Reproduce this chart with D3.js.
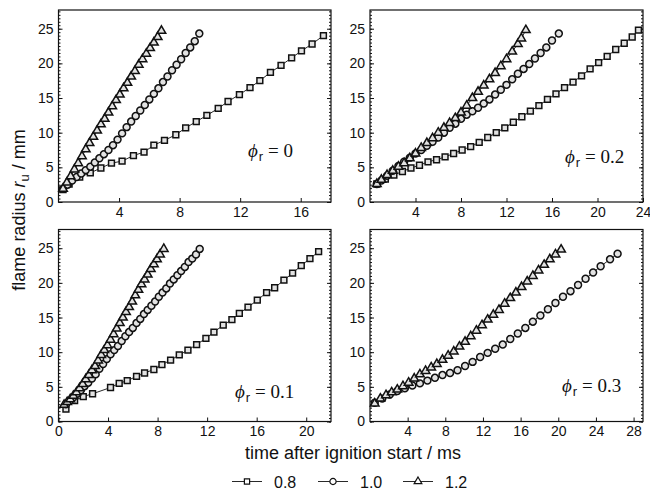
<!DOCTYPE html>
<html>
<head>
<meta charset="utf-8">
<script src="https://cdn.jsdelivr.net/npm/d3@7"></script>
<style>
  body { margin: 0; background: #fff; }
  svg { display: block; }
  .tick text { font-family: "Liberation Sans", Arial, sans-serif; font-size: 14px; fill: #111; }
  .tick line { stroke: #111; }
</style>
</head>
<body>
<script>
// legend / equivalence ratios and the residual-gas labels of the four panels
var eqRatios = ["0.8", "1.0", "1.2"];
var phiLabels = ["0", "0.2", "0.1", "0.3"];
var yTicks = [0, 5, 10, 15, 20, 25];

// [time (ms), flame radius (mm)]  -- phi_r = 0
var phi0_08 = [[0.3,1.8],[0.7,2.6],[1.4,3.6],[2.1,4.2],[2.8,4.9],[3.5,5.6],[4.2,5.9],[4.95,6.7],[5.65,7.2],[6.3,8.2],[7.0,8.9],[7.75,9.7],[8.4,10.7],[9.1,11.6],[9.8,12.5],[10.55,13.5],[11.2,14.5],[11.95,15.5],[12.65,16.5],[13.3,17.5],[14.0,18.7],[14.7,19.7],[15.4,20.8],[16.05,21.8],[16.75,22.8],[17.5,24.0]];
var phi0_10 = [[0.3,1.9],[0.6,2.5],[0.9,3.1],[1.2,3.6],[1.5,4.1],[1.8,4.6],[2.1,5.1],[2.4,5.7],[2.7,6.3],[3.0,6.9],[3.3,7.5],[3.6,8.2],[3.9,9.0],[4.2,9.9],[4.5,10.8],[4.8,11.6],[5.1,12.4],[5.4,13.2],[5.7,14.0],[6.0,14.8],[6.3,15.6],[6.6,16.4],[6.9,17.3],[7.2,18.1],[7.5,19.0],[7.8,19.8],[8.1,20.6],[8.4,21.5],[8.7,22.3],[9.0,23.2],[9.3,24.3]];
var phi0_12 = [[0.3,1.9],[0.55,2.8],[0.8,3.7],[1.05,4.7],[1.3,5.6],[1.55,6.6],[1.8,7.6],[2.05,8.5],[2.3,9.4],[2.55,10.3],[2.8,11.2],[3.05,12.0],[3.3,12.9],[3.55,13.8],[3.8,14.7],[4.05,15.5],[4.3,16.4],[4.55,17.2],[4.8,18.1],[5.05,18.9],[5.3,19.8],[5.55,20.6],[5.8,21.4],[6.05,22.2],[6.3,23.0],[6.55,23.8],[6.8,24.7]];

// phi_r = 0.2
var phi02_08 = [[0.6,2.6],[1.35,3.3],[2.1,3.9],[2.85,4.4],[3.6,4.9],[4.35,5.3],[5.1,5.8],[5.85,6.1],[6.6,6.5],[7.35,7.0],[8.1,7.5],[8.85,8.0],[9.6,8.6],[10.35,9.3],[11.1,10.0],[11.85,10.7],[12.6,11.5],[13.35,12.3],[14.1,13.1],[14.85,13.9],[15.6,14.8],[16.35,15.6],[17.1,16.5],[17.85,17.3],[18.6,18.2],[19.35,19.2],[20.1,20.1],[20.85,21.0],[21.6,22.0],[22.35,22.9],[23.05,23.8],[23.6,24.8]];
var phi02_10 = [[0.6,2.6],[1.0,3.1],[1.5,3.8],[2.0,4.5],[2.5,5.2],[3.0,5.8],[3.5,6.4],[4.0,7.0],[4.5,7.5],[5.0,8.1],[5.5,8.7],[6.0,9.3],[6.5,10.0],[7.0,10.7],[7.5,11.3],[8.0,12.0],[8.5,12.6],[9.0,13.1],[9.5,13.6],[10.0,14.2],[10.5,14.8],[11.0,15.5],[11.5,16.2],[12.0,16.9],[12.5,17.7],[13.0,18.5],[13.5,19.2],[14.0,19.9],[14.5,20.7],[15.0,21.5],[15.5,22.3],[16.0,23.3],[16.6,24.3]];
var phi02_12 = [[0.6,2.6],[1.0,3.2],[1.5,3.9],[2.0,4.5],[2.5,5.1],[3.0,5.6],[3.5,6.3],[4.0,7.0],[4.5,7.8],[5.0,8.5],[5.5,9.2],[6.0,10.0],[6.5,10.7],[7.0,11.4],[7.5,12.1],[8.0,12.9],[8.5,13.9],[9.0,15.0],[9.5,15.9],[10.0,16.8],[10.5,17.7],[11.0,18.6],[11.5,19.6],[12.0,20.6],[12.5,21.7],[13.0,22.8],[13.3,23.6],[13.7,24.8]];

// phi_r = 0.1
var phi01_08 = [[0.6,1.8],[1.3,3.0],[2.0,3.6],[2.75,4.0],[4.2,4.9],[4.9,5.5],[5.55,5.9],[6.3,6.5],[6.95,7.0],[7.7,7.5],[8.35,8.2],[9.05,8.85],[9.75,9.6],[10.45,10.3],[11.15,11.1],[11.9,12.0],[12.55,12.9],[13.3,13.9],[14.0,14.7],[14.6,15.6],[15.3,16.5],[16.05,17.5],[16.8,18.6],[17.45,19.3],[18.2,20.4],[18.9,21.4],[19.6,22.5],[20.3,23.5],[21.0,24.5]];
var phi01_10 = [[0.6,2.5],[0.9,3.0],[1.2,3.5],[1.5,4.0],[1.8,4.5],[2.1,5.1],[2.4,5.6],[2.7,6.2],[3.0,6.8],[3.3,7.6],[3.6,8.3],[3.9,9.0],[4.2,9.7],[4.5,10.3],[4.8,10.9],[5.1,11.6],[5.4,12.3],[5.7,12.9],[6.0,13.5],[6.3,14.2],[6.6,14.8],[6.9,15.5],[7.2,16.1],[7.5,16.7],[7.8,17.3],[8.1,18.0],[8.4,18.6],[8.7,19.2],[9.0,19.9],[9.3,20.5],[9.6,21.1],[9.9,21.7],[10.2,22.3],[10.5,23.0],[10.8,23.5],[11.1,24.1],[11.4,24.9]];
var phi01_12 = [[0.45,2.4],[0.7,2.8],[0.95,3.2],[1.2,3.7],[1.45,4.2],[1.7,4.8],[1.95,5.4],[2.2,6.1],[2.45,6.7],[2.7,7.4],[2.95,8.0],[3.2,8.8],[3.45,9.6],[3.7,10.3],[3.95,11.0],[4.2,11.8],[4.45,12.6],[4.7,13.4],[4.95,14.2],[5.2,15.0],[5.45,15.8],[5.7,16.5],[5.95,17.3],[6.2,18.2],[6.45,19.0],[6.7,19.8],[6.95,20.5],[7.2,21.2],[7.45,22.0],[7.7,22.7],[7.95,23.4],[8.2,24.1],[8.5,24.9]];

// phi_r = 0.3 (no 0.8 series)
var phi03_10 = [[0.5,2.7],[1.3,3.3],[2.1,3.9],[2.9,4.4],[3.7,4.8],[4.5,5.2],[5.3,5.5],[6.1,5.9],[6.9,6.3],[7.7,6.7],[8.5,7.0],[9.3,7.4],[10.1,8.0],[10.9,8.6],[11.7,9.3],[12.5,9.9],[13.3,10.5],[14.1,11.1],[14.9,11.9],[15.7,12.7],[16.5,13.5],[17.3,14.4],[18.1,15.3],[18.9,16.2],[19.7,17.1],[20.5,18.0],[21.3,18.8],[22.1,19.7],[22.9,20.6],[23.7,21.5],[24.5,22.4],[25.5,23.4],[26.3,24.2]];
var phi03_12 = [[0.5,2.6],[1.1,3.3],[1.7,3.8],[2.3,4.2],[2.9,4.6],[3.5,5.1],[4.1,5.6],[4.7,6.2],[5.3,6.8],[5.9,7.3],[6.5,7.8],[7.1,8.3],[7.7,8.9],[8.3,9.5],[8.9,10.1],[9.5,10.8],[10.1,11.5],[10.7,12.3],[11.3,13.1],[11.9,13.9],[12.5,14.7],[13.1,15.4],[13.7,16.1],[14.3,17.0],[14.9,17.8],[15.5,18.6],[16.1,19.4],[16.7,20.2],[17.3,21.0],[17.9,21.8],[18.5,22.6],[19.1,23.4],[19.7,24.1],[20.3,24.8]];

var width = 650, height = 489;
var svg = d3.select("body").append("svg")
    .attr("width", width)
    .attr("height", height);

var symbols = [d3.symbolSquare, d3.symbolCircle, d3.symbolTriangle];
var symSize = [34, 38, 32];

var panels = [
  {x0: 58.5, x1: 331, y0: 10, y1: 202, xmax: 18, xticks: [4, 8, 12, 16], phi: phiLabels[0], lx: 248, ly: 157,
   series: [phi0_08, phi0_10, phi0_12]},
  {x0: 370, x1: 643, y0: 10, y1: 202, xmax: 24, xticks: [4, 8, 12, 16, 20, 24], phi: phiLabels[1], lx: 565, ly: 163,
   series: [phi02_08, phi02_10, phi02_12]},
  {x0: 58.5, x1: 331, y0: 229.5, y1: 421.5, xmax: 22, xticks: [0, 4, 8, 12, 16, 20], phi: phiLabels[2], lx: 235, ly: 398,
   series: [phi01_08, phi01_10, phi01_12]},
  {x0: 370, x1: 643, y0: 229.5, y1: 421.5, xmax: 29, xticks: [4, 8, 12, 16, 20, 24, 28], phi: phiLabels[3], lx: 562, ly: 392,
   series: [null, phi03_10, phi03_12]}
];

panels.forEach(function(p) {
  var x = d3.scaleLinear().domain([0, p.xmax]).range([p.x0, p.x1]);
  var y = d3.scaleLinear().domain([0, 27.7]).range([p.y1, p.y0]);
  var g = svg.append("g");

  // minor y ticks, left and right
  g.append("g")
    .attr("transform", "translate(" + p.x0 + ",0)")
    .call(d3.axisLeft(y).tickValues(d3.range(0, 27.6, 0.5)).tickSize(-2).tickFormat(""))
    .call(function(a) { a.select(".domain").remove(); });
  g.append("g")
    .attr("transform", "translate(" + p.x1 + ",0)")
    .call(d3.axisRight(y).tickValues(d3.range(0, 27.6, 0.5)).tickSize(-2).tickFormat(""))
    .call(function(a) { a.select(".domain").remove(); });

  // major y ticks
  g.append("g")
    .attr("transform", "translate(" + p.x0 + ",0)")
    .call(d3.axisLeft(y).tickValues(yTicks).tickSize(-4).tickPadding(5).tickFormat(d3.format("d")))
    .call(function(a) { a.select(".domain").remove(); });
  g.append("g")
    .attr("transform", "translate(" + p.x1 + ",0)")
    .call(d3.axisRight(y).tickValues(yTicks).tickSize(-4).tickFormat(""))
    .call(function(a) { a.select(".domain").remove(); });

  // x ticks
  g.append("g")
    .attr("transform", "translate(0," + p.y1 + ")")
    .call(d3.axisBottom(x).tickValues(p.xticks).tickSize(-4).tickPadding(5).tickFormat(d3.format("d")))
    .call(function(a) { a.select(".domain").remove(); });

  // frame
  g.append("rect")
    .attr("x", p.x0).attr("y", p.y0)
    .attr("width", p.x1 - p.x0).attr("height", p.y1 - p.y0)
    .attr("fill", "none").attr("stroke", "#111").attr("stroke-width", 1.2);

  var line = d3.line().x(function(d) { return x(d[0]); }).y(function(d) { return y(d[1]); });

  p.series.forEach(function(s, i) {
    if (!s) return;
    g.append("path")
      .datum(s)
      .attr("d", line)
      .attr("fill", "none")
      .attr("stroke", "#111")
      .attr("stroke-width", 0.9);
    g.selectAll(".m" + i)
      .data(s)
      .enter()
      .append("path")
        .attr("class", "m" + i)
        .attr("transform", function(d) { return "translate(" + x(d[0]) + "," + y(d[1]) + ")"; })
        .attr("d", d3.symbol().type(symbols[i]).size(symSize[i]))
        .attr("fill", "#e2e2e2")
        .attr("stroke", "#111")
        .attr("stroke-width", 1.5);
  });

  // phi_r annotation
  var t = g.append("text")
    .attr("x", p.lx).attr("y", p.ly)
    .attr("font-family", "'Liberation Serif', 'DejaVu Serif', serif")
    .attr("font-size", 19)
    .attr("fill", "#111");
  t.append("tspan").attr("font-style", "italic").text("\u03D5");
  t.append("tspan").attr("font-family", "'Liberation Sans', Arial, sans-serif")
    .attr("font-size", 13).attr("dy", 4).attr("dx", 1).text("r");
  t.append("tspan").attr("dy", -4).text(" = " + p.phi);
});

// axis titles
svg.append("text")
  .attr("x", 353).attr("y", 459)
  .attr("text-anchor", "middle")
  .attr("font-family", "'Liberation Sans', Arial, sans-serif")
  .attr("font-size", 18)
  .attr("fill", "#111")
  .text("time after ignition start / ms");

var yt = svg.append("text")
  .attr("transform", "translate(25,210) rotate(-90)")
  .attr("text-anchor", "middle")
  .attr("font-family", "'Liberation Sans', Arial, sans-serif")
  .attr("font-size", 18)
  .attr("fill", "#111");
yt.append("tspan").text("flame radius ");
yt.append("tspan").attr("font-style", "italic").text("r");
yt.append("tspan").attr("font-size", 13).attr("dy", 4).text("u");
yt.append("tspan").attr("dy", -4).text(" / mm");

// legend
var legX = [232, 318, 403];
eqRatios.forEach(function(lab, i) {
  var lg = svg.append("g").attr("transform", "translate(" + legX[i] + ",481.5)");
  lg.append("line").attr("x1", 0).attr("x2", 30).attr("y1", 0).attr("y2", 0)
    .attr("stroke", "#111").attr("stroke-width", 0.9);
  lg.append("path")
    .attr("transform", "translate(15,0)")
    .attr("d", d3.symbol().type(symbols[i]).size(symSize[i] * 0.8))
    .attr("fill", "#fff").attr("stroke", "#111").attr("stroke-width", 1.2);
  lg.append("text")
    .attr("x", 42).attr("y", 6)
    .attr("font-family", "'Liberation Sans', Arial, sans-serif")
    .attr("font-size", 16)
    .attr("fill", "#111")
    .text(lab);
});
</script>
</body>
</html>
